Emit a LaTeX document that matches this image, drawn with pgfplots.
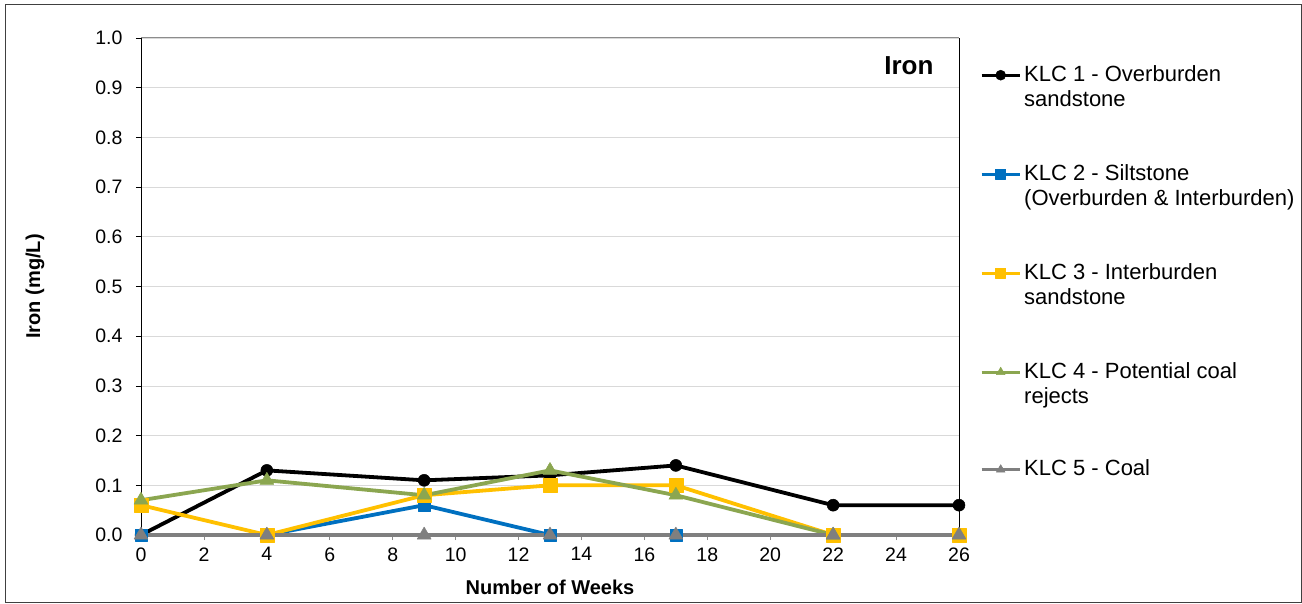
\documentclass[border=0pt]{standalone}
\usepackage{pgfplots}
\pgfplotsset{compat=1.18}
\usepackage{fontspec}
\setmainfont{Liberation Sans}

\definecolor{klcblue}{HTML}{0070C0}
\definecolor{klcyellow}{HTML}{FFC000}
\definecolor{klcgreen}{HTML}{8BA650}
\definecolor{klcgrey}{HTML}{7F7F7F}
\definecolor{framegrey}{HTML}{8C8C8C}
\definecolor{gridgrey}{HTML}{D9D9D9}

\newcommand{\twoline}[2]{\begin{tabular}[t]{@{}l@{}}#1\\#2\end{tabular}}

\begin{document}
\begin{tikzpicture}
\useasboundingbox (0pt,0pt) rectangle (1302pt,603pt);
\draw[black!75, line width=1pt] (5pt,0.5pt) rectangle (1301.5pt,598pt);
\begin{axis}[
  at={(141pt,68pt)}, anchor=south west,
  scale only axis, width=818pt, height=497pt,
  xmin=0, xmax=26, ymin=0, ymax=1,
  xtick={0,2,...,26},
  ytick={0,0.1,...,1.0},
  xtick pos=bottom, ytick pos=left,
  yticklabel style={xshift=-10pt, /pgf/number format/.cd, fixed, fixed zerofill, precision=1},
  /pgf/number format/assume math mode=true,
  tick label style={font=\fontsize{19.5}{22}\selectfont},
  ymajorgrids, grid style={gridgrey, line width=0.8pt},
  tick align=outside, major tick length=5pt,
  xtick style={framegrey, line width=0.8pt},
  ytick style={black, line width=0.8pt},
  axis line style={framegrey, line width=1pt},
  separate axis lines,
  y axis line style={black},
  xlabel={\bfseries Number of Weeks},
  ylabel={\bfseries Iron (mg/L)},
  label style={font=\fontsize{20}{24}\selectfont},
  xlabel style={at={(axis description cs:0.5,-0.1046)}, anchor=center},
  ylabel style={at={(axis description cs:-0.1296,0.5)}, anchor=center},
  xticklabel style={yshift=-4pt},
  clip=false,
  every axis plot/.append style={line width=3.8pt, line join=round},
  legend style={draw=none, fill=none, at={(1,1)}, anchor=north west,
    xshift=21pt, yshift=-25.5pt, inner sep=0pt,
    font=\fontsize{22}{25}\selectfont,
    nodes={anchor=base west, yshift=-6pt, inner sep=0pt},
    /tikz/row sep=80pt, /tikz/column sep=3pt},
  legend image code/.code={
    \draw[mark repeat=2, mark phase=2, line width=3pt, mark size=5pt] plot coordinates {(0pt,0pt) (19pt,0pt) (38pt,0pt)};
  },
]
\addplot[black, mark=*, mark size=6pt, mark options={line width=0.5pt}] coordinates {
  (0,0) (4,0.13) (9,0.11) (13,0.12) (17,0.14) (22,0.06) (26,0.06)
};
\addlegendentry{\twoline{KLC 1 - Overburden}{sandstone}}
\addplot[klcblue, mark=square*, mark size=6pt, mark options={line width=0.5pt}] coordinates {
  (0,0) (4,0) (9,0.06) (13,0) (17,0) (22,0) (26,0)
};
\addlegendentry{\twoline{KLC 2 - Siltstone}{(Overburden \& Interburden)}}
\addplot[klcyellow, mark=square*, mark size=7pt, mark options={line width=0.5pt}] coordinates {
  (0,0.06) (4,0) (9,0.08) (13,0.10) (17,0.10) (22,0) (26,0)
};
\addlegendentry{\twoline{KLC 3 - Interburden}{sandstone}}
\addplot[klcgreen, mark=triangle*, mark size=8pt, mark options={line width=0.5pt}] coordinates {
  (0,0.07) (4,0.11) (9,0.08) (13,0.13) (17,0.08) (22,0)
};
\addlegendentry{\twoline{KLC 4 - Potential coal}{rejects}}
\addplot[klcgrey, mark=triangle*, mark size=8pt, mark options={line width=0.5pt}] coordinates {
  (0,0) (4,0) (9,0) (13,0) (17,0) (22,0) (26,0)
};
\addlegendentry{KLC 5 - Coal}
\node[anchor=north east, font=\fontsize{26}{30}\selectfont\bfseries]
  at (rel axis cs:1,1) [xshift=-22pt, yshift=-15pt] {Iron};
\end{axis}
\end{tikzpicture}
\end{document}
